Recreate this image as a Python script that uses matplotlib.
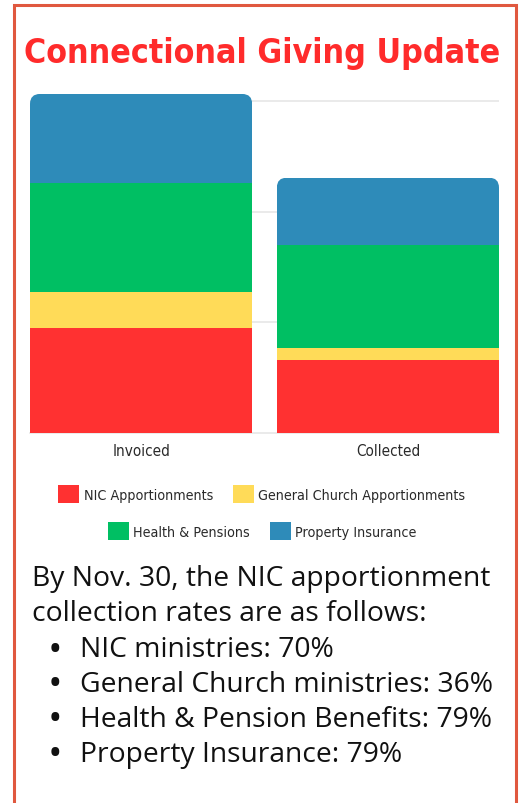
import numpy as np
import matplotlib

matplotlib.use("Agg")
import matplotlib.pyplot as plt
import matplotlib.font_manager as fm
from matplotlib.patches import FancyBboxPatch, Rectangle

# data (units = one gridline step)
categories = ["Invoiced", "Collected"]
series_names = ["NIC Apportionments", "General Church Apportionments",
                "Health & Pensions", "Property Insurance"]
nic = [0.95, 0.66]
general_church = [0.32, 0.105]
health_pensions = [0.99, 0.93]
property_ins = [0.80, 0.61]
series_values = [nic, general_church, health_pensions, property_ins]
colors = ["#ff3131", "#ffdb58", "#00bf63", "#2e8bb9"]

title = "Connectional Giving Update"
body_lines = ["By Nov. 30, the NIC apportionment",
              "collection rates are as follows:"]
bullets = ["NIC ministries: 70%",
           "General Church ministries: 36%",
           "Health & Pension Benefits: 79%",
           "Property Insurance: 79%"]


def narrow_font(bold):
    # look for any condensed face that happens to be installed
    best = None
    for f in fm.fontManager.ttflist:
        cond = ("Condensed" in f.name or "Narrow" in f.name
                or str(f.stretch) in ("condensed", "semi-condensed", "extra-condensed"))
        if not cond or "italic" in f.style or "oblique" in f.style:
            continue
        w = f.weight if isinstance(f.weight, int) else (700 if "bold" in str(f.weight) else 400)
        score = abs(w - (700 if bold else 400))
        if best is None or score < best[0]:
            best = (score, f.fname)
    if best is None:
        return None
    return fm.FontProperties(fname=best[1])


W, H = 519, 804
fig = plt.figure(figsize=(W / 100, H / 100), dpi=100)
fig.patch.set_facecolor("white")
renderer = fig.canvas.get_renderer()

title_fp = narrow_font(True)
label_fp = narrow_font(False)
if title_fp is None:
    title_fp = fm.FontProperties(family="DejaVu Sans", weight="bold")
if label_fp is None:
    label_fp = fm.FontProperties(family="DejaVu Sans")


def fit(t, target_px, max_size):
    w = t.get_window_extent(renderer=renderer).width
    t.set_fontsize(min(max_size, t.get_fontsize() * target_px / w))


# outer frame
fig.patches.append(Rectangle((13.5 / W, -0.02), 502 / W, (1 - 5.5 / H) + 0.02,
                             transform=fig.transFigure, fill=False,
                             edgecolor="#e0583f", linewidth=2.2))

tt = fig.text(262 / W, 1 - 54 / H, title, ha="center", va="center",
              color="#ff2b2b", fontproperties=title_fp, fontsize=30)
fit(tt, 476, 34)

# chart area
ax_l, ax_r, ax_b, ax_t = 30, 499, 434.3, 90
ax = fig.add_axes([ax_l / W, 1 - ax_b / H, (ax_r - ax_l) / W, (ax_b - ax_t) / H])
x = np.arange(len(categories))
width = 0.9
ax.set_xlim(-0.45, 1.45)
ax.set_ylim(0, (ax_b - ax_t) / 110.9)

bottom = np.zeros(len(categories))
containers = []
for name, vals, c in zip(series_names, series_values, colors):
    bc = ax.bar(x, vals, width, bottom=bottom, color=c, label=name,
                linewidth=0, zorder=3)
    containers.append(bc)
    bottom = bottom + np.array(vals)

# round the top corners of each stack
px_x = ax.transData.transform((1, 0))[0] - ax.transData.transform((0, 0))[0]
px_y = ax.transData.transform((0, 1))[1] - ax.transData.transform((0, 0))[1]
aspect = px_x / px_y
radius = 10 / px_x
for i, xi in enumerate(x):
    clip = FancyBboxPatch((xi - width / 2, -1), width, bottom[i] + 1,
                          boxstyle=f"round,pad=0,rounding_size={radius}",
                          mutation_aspect=aspect, transform=ax.transData)
    containers[-1][i].set_clip_path(clip)

ax.set_yticks([1, 2, 3])
ax.yaxis.grid(True, color="#e6e6e6", linewidth=1.2, zorder=0)
ax.set_axisbelow(True)
ax.tick_params(axis="y", left=False, labelleft=False)
ax.tick_params(axis="x", length=0, pad=7, labelcolor="#333333")
ax.set_xticks(x)
ax.set_xticklabels(categories)
for lab in ax.get_xticklabels():
    lab.set_fontproperties(label_fp)
    lab.set_fontsize(11)
    lab.set_color("#2a2a2a")
for s in ["top", "right", "left"]:
    ax.spines[s].set_visible(False)
ax.spines["bottom"].set_color("#e6e6e6")
ax.spines["bottom"].set_linewidth(1.2)

# legend size chosen so the first row is about as wide as in the picture
probe = fig.text(0, 0, series_names[1], fontproperties=label_fp, fontsize=10)
leg_size = min(11.5, 10 * 208 / probe.get_window_extent(renderer=renderer).width)
probe.remove()

handles = [bc[0] for bc in containers]
leg_prop = label_fp.copy()
leg_prop.set_size(leg_size)
leg_kw = dict(ncol=2, frameon=False, handlelength=21 / (leg_size * 1.389),
              handleheight=21 / (leg_size * 1.389),
              handletextpad=0.3, columnspacing=1.4,
              prop=leg_prop, labelcolor="#2a2a2a")
leg1 = fig.legend(handles[:2], series_names[:2], loc="center",
                  bbox_to_anchor=(262 / W, 1 - 495 / H), **leg_kw)
leg2 = fig.legend(handles[2:], series_names[2:], loc="center",
                  bbox_to_anchor=(262 / W, 1 - 532 / H), **leg_kw)

body_font = ["Open Sans", "DejaVu Sans"]
bs = 20.3
y0 = 579
step = 35
for k, line in enumerate(body_lines):
    fig.text(32 / W, 1 - (y0 + step * k) / H, line, ha="left", va="center",
             fontsize=bs, family=body_font, color="#111111")
for k, line in enumerate(bullets):
    yy = 1 - (y0 + 1 + step * (k + 2)) / H
    fig.text(55 / W, yy, "\u2022", ha="center", va="center",
             fontsize=bs, fontweight="bold", family=body_font, color="#111111")
    fig.text(80 / W, yy, line, ha="left", va="center",
             fontsize=bs, family=body_font, color="#111111")

fig.savefig("out.png", dpi=100)
plt.close(fig)
